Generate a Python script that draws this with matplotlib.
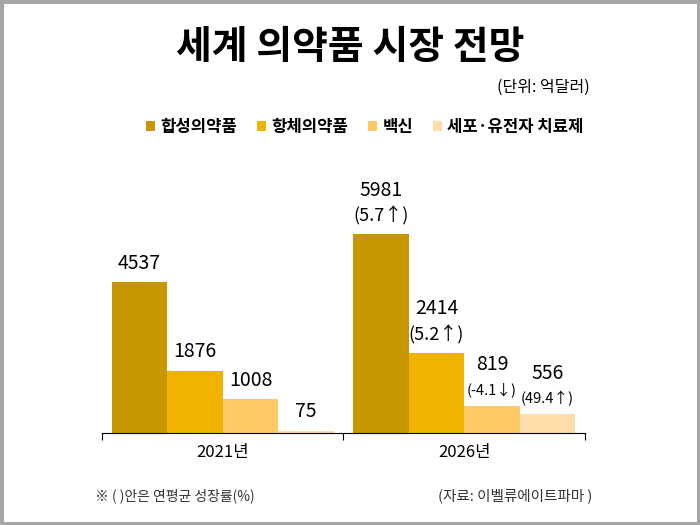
import matplotlib
matplotlib.use('Agg')
import matplotlib.pyplot as plt
from matplotlib.patches import Rectangle, Patch
import numpy as np

plt.rcParams['font.family'] = ['Noto Sans CJK KR', 'DejaVu Sans']

years = ['2021년', '2026년']
series = ['합성의약품', '항체의약품', '백신', '세포·유전자 치료제']
values = {
    '합성의약품': [4537, 5981],
    '항체의약품': [1876, 2414],
    '백신': [1008, 819],
    '세포·유전자 치료제': [75, 556],
}
growth = ['5.7↑', '5.2↑', '-4.1↓', '49.4↑']
colors = ['#C89600', '#F0B400', '#FFC966', '#FFDDAA']

fig = plt.figure(figsize=(7, 5.25), dpi=100)
ax = fig.add_axes([102/700, 1-433/525, 483/700, 233/525])

x = np.arange(len(years))
w = 0.23
offsets = (np.arange(4) - 1.5) * w
for i, s in enumerate(series):
    ax.bar(x + offsets[i], values[s], width=w, color=colors[i], linewidth=0)
    # 2021 label
    v0 = values[s][0]
    ax.annotate(f'{v0}', (x[0] + offsets[i], v0), xytext=(0, 6), textcoords='offset points',
                ha='center', va='bottom', fontsize=14)
    v1 = values[s][1]
    small = i >= 2
    ax.annotate(f'({growth[i]})', (x[1] + offsets[i], v1), xytext=(0, 6), textcoords='offset points',
                ha='center', va='bottom', fontsize=10.5 if small else 13)
    ax.annotate(f'{v1}', (x[1] + offsets[i], v1), xytext=(0, 22 if small else 24),
                textcoords='offset points', ha='center', va='bottom', fontsize=14)

ax.set_ylim(0, 7000)
ax.set_xlim(-0.5, 1.5)
for sp in ['top', 'right', 'left']:
    ax.spines[sp].set_visible(False)
ax.spines['bottom'].set_color('black')
ax.set_yticks([])
ax.set_xticks([-0.5, 0.5, 1.5])
ax.set_xticklabels([])
ax.tick_params(axis='x', length=5, direction='out', color='black')
for xi, lab in zip(x, years):
    ax.text(xi, -600, lab, ha='center', va='center', fontsize=12)

fig.text(0.5, 1-48/525, '세계 의약품 시장 전망', ha='center', va='center',
         fontsize=28, fontweight='bold')
fig.text(590/700, 1-87/525, '(단위: 억달러)', ha='right', va='center', fontsize=11.5)

handles = [Patch(facecolor=c, edgecolor='none') for c in colors]
leg = fig.legend(handles, series, loc='center', bbox_to_anchor=(365/700, 1-127/525), ncol=4,
                 frameon=False, handlelength=0.55, handleheight=0.55, handletextpad=0.3,
                 columnspacing=1.2, prop={'size': 12, 'weight': 'bold'})

fig.text(95/700, 1-496/525, '※ ( )안은 연평균 성장률(%)', ha='left', va='center', fontsize=10,
         color='#333333')
fig.text(592/700, 1-496/525, '(자료: 이벨류에이트파마 )', ha='right', va='center', fontsize=10.5,
         color='#333333')

fig.patches.append(Rectangle((0, 0), 1, 1, transform=fig.transFigure, fill=False,
                             edgecolor='#A6A6A6', linewidth=5))

fig.savefig('out.png', dpi=100)
